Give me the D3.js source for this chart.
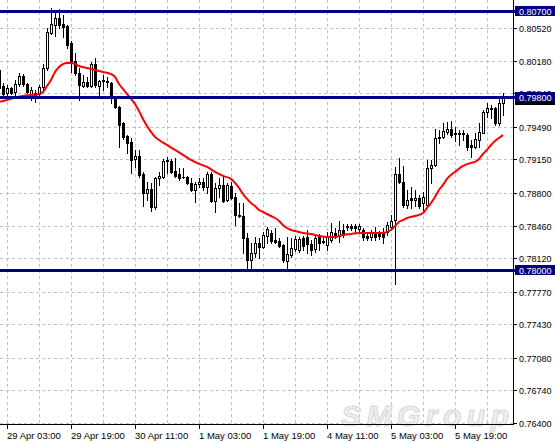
<!DOCTYPE html>
<html><head><meta charset="utf-8">
<script src="https://cdn.jsdelivr.net/npm/d3@7"></script>
<style>body{margin:0;background:#fff}svg{display:block}</style>
</head><body>
<svg id="c" width="555" height="443"></svg>
<script>
// ---- data (H1 candles, 29 Apr 01:00 .. 6 May 07:00) ----
const open = [0.80082,0.79915,0.79842,0.79894,0.79852,0.79936,0.80019,0.79936,0.79821,0.79842,
0.79832,0.79905,0.80103,0.80468,0.80551,0.80624,0.80562,0.80541,0.80364,0.80176,
0.80051,0.79915,0.79957,0.79915,0.80144,0.79915,0.79978,0.79967,0.79946,0.79790,
0.79696,0.79530,0.79394,0.79331,0.79154,0.79186,0.78998,0.78799,0.78841,0.78653,
0.78956,0.78966,0.79133,0.79133,0.79029,0.78998,0.78966,0.78966,0.78904,0.78831,
0.78893,0.78914,0.78862,0.78998,0.78716,0.78852,0.78883,0.78726,0.78872,0.78758,
0.78570,0.78559,0.78330,0.78100,0.78173,0.78278,0.78236,0.78351,0.78382,0.78309,
0.78298,0.78257,0.78090,0.78152,0.78215,0.78204,0.78330,0.78340,0.78267,0.78215,
0.78340,0.78298,0.78257,0.78309,0.78382,0.78351,0.78413,0.78444,0.78455,0.78455,
0.78424,0.78413,0.78351,0.78340,0.78382,0.78371,0.78392,0.78392,0.78444,0.78517,
0.78998,0.78914,0.78674,0.78747,0.78726,0.78747,0.78695,0.78674,0.79060,0.79092,
0.79373,0.79384,0.79436,0.79467,0.79425,0.79425,0.79425,0.79404,0.79300,0.79279,
0.79352,0.79425,0.79644,0.79686,0.79686,0.79530,0.79738];
const high = [0.80113,0.79946,0.79925,0.79905,0.79978,0.80051,0.80040,0.79946,0.79905,0.79873,
0.79925,0.80144,0.80520,0.80729,0.80708,0.80718,0.80656,0.80551,0.80384,0.80259,
0.80103,0.80030,0.80009,0.80165,0.80207,0.79978,0.80030,0.80009,0.79957,0.79800,
0.79706,0.79540,0.79404,0.79373,0.79248,0.79248,0.79019,0.78914,0.78904,0.78966,
0.79019,0.79154,0.79175,0.79154,0.79165,0.79060,0.79060,0.78977,0.78956,0.78914,
0.78956,0.78956,0.79019,0.79019,0.78904,0.78956,0.78977,0.78904,0.78914,0.78799,
0.78695,0.78695,0.78382,0.78278,0.78340,0.78330,0.78392,0.78444,0.78413,0.78434,
0.78330,0.78267,0.78340,0.78330,0.78351,0.78340,0.78351,0.78413,0.78309,0.78361,
0.78371,0.78340,0.78392,0.78486,0.78434,0.78507,0.78476,0.78476,0.78476,0.78476,
0.78476,0.78434,0.78382,0.78413,0.78444,0.78403,0.78434,0.78497,0.78570,0.79071,
0.79165,0.79081,0.78831,0.78862,0.78831,0.78778,0.78810,0.79144,0.79144,0.79467,
0.79457,0.79530,0.79540,0.79550,0.79488,0.79457,0.79457,0.79425,0.79352,0.79425,
0.79530,0.79665,0.79738,0.79717,0.79696,0.79790,0.79842];
const low = [0.79842,0.79800,0.79800,0.79832,0.79821,0.79915,0.79915,0.79842,0.79769,0.79748,
0.79800,0.79873,0.80082,0.80457,0.80436,0.80520,0.80426,0.80311,0.80061,0.80030,
0.79769,0.79905,0.79905,0.79905,0.79905,0.79800,0.79873,0.79905,0.79738,0.79686,
0.79279,0.79363,0.79217,0.79008,0.79071,0.78966,0.78663,0.78726,0.78611,0.78632,
0.78883,0.78956,0.79008,0.79008,0.78966,0.78935,0.78956,0.78893,0.78820,0.78705,
0.78862,0.78831,0.78799,0.78705,0.78601,0.78758,0.78705,0.78716,0.78737,0.78465,
0.78549,0.78173,0.78017,0.78006,0.78131,0.78121,0.78225,0.78278,0.78278,0.78278,
0.78236,0.78079,0.78017,0.78131,0.78194,0.78183,0.78204,0.78173,0.78152,0.78183,
0.78204,0.78278,0.78204,0.78288,0.78330,0.78288,0.78340,0.78413,0.78413,0.78392,
0.78403,0.78309,0.78309,0.78309,0.78309,0.78319,0.78278,0.78361,0.78434,0.77850,
0.78904,0.78653,0.78643,0.78643,0.78663,0.78643,0.78601,0.78653,0.78904,0.79081,
0.79321,0.79373,0.79415,0.79384,0.79342,0.79300,0.79352,0.79248,0.79175,0.79269,
0.79279,0.79425,0.79592,0.79582,0.79509,0.79509,0.79613];
const close = [0.79894,0.79832,0.79894,0.79842,0.79936,0.80019,0.79936,0.79852,0.79873,0.79811,
0.79905,0.80103,0.80478,0.80562,0.80624,0.80551,0.80530,0.80343,0.80165,0.80051,
0.79925,0.79957,0.79915,0.80144,0.79925,0.79967,0.79967,0.79957,0.79800,0.79696,
0.79509,0.79384,0.79321,0.79144,0.79186,0.78987,0.78799,0.78841,0.78653,0.78956,
0.78977,0.79133,0.79144,0.79019,0.78977,0.78956,0.78961,0.78904,0.78831,0.78893,
0.78914,0.78862,0.78998,0.78716,0.78852,0.78883,0.78716,0.78883,0.78747,0.78570,
0.78559,0.78330,0.78100,0.78173,0.78278,0.78236,0.78361,0.78424,0.78298,0.78288,
0.78246,0.78100,0.78163,0.78225,0.78319,0.78319,0.78246,0.78267,0.78204,0.78330,
0.78278,0.78293,0.78340,0.78392,0.78340,0.78413,0.78361,0.78455,0.78434,0.78434,
0.78455,0.78340,0.78330,0.78382,0.78340,0.78351,0.78340,0.78465,0.78507,0.78998,
0.78914,0.78674,0.78726,0.78726,0.78747,0.78663,0.78758,0.79060,0.79092,0.79373,
0.79384,0.79446,0.79467,0.79404,0.79415,0.79415,0.79415,0.79279,0.79279,0.79363,
0.79436,0.79644,0.79686,0.79675,0.79530,0.79738,0.79790];

// moving average (bar index, value)
const maBars = [0,2,4,6,8,10,11,12,13,14,15,16,17,18,19,20,22,24,26,28,29,30,31,32,33,34,35,36,37,38,39,40,42,44,46,48,50,52,54,56,58,59,60,61,62,63,64,65,66,67,68,69,70,71,72,73,74,76,78,80,82,84,86,88,90,92,94,96,97,98,99,100,101,102,104,106,107,108,109,110,111,112,113,114,116,118,119,120,121,122,123,124,125,126];
const maValues = [0.79748,0.79769,0.79795,0.79811,0.79821,0.79832,0.79852,0.79915,0.79978,0.80061,0.80113,0.80144,0.80155,0.80155,0.80144,0.80124,0.80103,0.80082,0.80061,0.80040,0.80009,0.79936,0.79884,0.79832,0.79780,0.79727,0.79654,0.79571,0.79498,0.79436,0.79384,0.79352,0.79300,0.79248,0.79196,0.79144,0.79102,0.79071,0.79019,0.78977,0.78946,0.78904,0.78852,0.78789,0.78737,0.78695,0.78663,0.78621,0.78601,0.78580,0.78559,0.78538,0.78507,0.78465,0.78434,0.78413,0.78403,0.78382,0.78371,0.78351,0.78340,0.78340,0.78361,0.78371,0.78382,0.78382,0.78382,0.78382,0.78392,0.78413,0.78455,0.78497,0.78517,0.78538,0.78559,0.78590,0.78643,0.78695,0.78758,0.78831,0.78883,0.78946,0.78987,0.79019,0.79081,0.79113,0.79123,0.79154,0.79206,0.79248,0.79300,0.79342,0.79373,0.79404];

const levels = [0.80700, 0.79800, 0.78000];
const yTicks = [0.80520,0.80180,0.79840,0.79490,0.79150,0.78800,0.78460,0.78120,0.77770,0.77430,0.77080,0.76740,0.76400];
const xTickBars = [2,18,34,50,66,82,98,114];
const xTickLabels = ["29 Apr 03:00","29 Apr 19:00","30 Apr 11:00","1 May 03:00","1 May 19:00","4 May 11:00","5 May 03:00","5 May 19:00"];
const watermark = "SMGroup";

// ---- layout ----
const W = 555, H = 443;
const axisX = 513, axisY = 424;
const FONT = "'Liberation Sans', Arial, sans-serif";
const NAVY = "#000080";

const x = d3.scaleLinear().domain([0, 128.5]).range([-1, 513]);
const y = d3.scaleLinear().domain([0.764, 0.8052]).range([423, 28]);
const px = v => Math.round(x(v));
const py = v => Math.round(y(v));

const svg = d3.select("#c");
svg.append("rect").attr("width", W).attr("height", H).attr("fill", "#fff");

const plot = svg.append("g");
// grid
const gridBars = d3.range(2, 128, 8).filter(i => x(i) < axisX - 2);
plot.selectAll("line.vg").data(gridBars).join("line")
  .attr("x1", d => px(d) + 0.5).attr("x2", d => px(d) + 0.5)
  .attr("y1", 0).attr("y2", axisY)
  .attr("stroke", "#c0c0c0").attr("stroke-dasharray", "3,3").attr("shape-rendering", "crispEdges");
plot.selectAll("line.hg").data(yTicks).join("line")
  .attr("x1", 0).attr("x2", axisX)
  .attr("y1", d => py(d) + 0.5).attr("y2", d => py(d) + 0.5)
  .attr("stroke", "#c0c0c0").attr("stroke-dasharray", "3,3").attr("shape-rendering", "crispEdges");

// watermark
svg.append("text").text(watermark)
  .attr("x", 341).attr("y", 426)
  .attr("font-family", FONT).attr("font-size", 30).attr("font-style", "italic").attr("font-weight", "bold")
  .attr("textLength", 168).attr("lengthAdjust", "spacing")
  .attr("fill", "#eeeeee").attr("stroke", "#d8d8d8").attr("stroke-width", 1);

// candles
const idx = d3.range(open.length);
const cg = svg.append("g").attr("shape-rendering", "crispEdges");
idx.forEach(i => {
  const cx = px(i);
  const yh = py(high[i]), yl = py(low[i]);
  cg.append("rect").attr("x", cx).attr("y", yh).attr("width", 1).attr("height", Math.max(1, yl - yh + 1)).attr("fill", "#000");
  const yo = py(open[i]), yc = py(close[i]);
  const top = Math.min(yo, yc), bot = Math.max(yo, yc);
  if (bot - top < 1) {
    cg.append("rect").attr("x", cx - 1).attr("y", top).attr("width", 3).attr("height", 1).attr("fill", "#000");
  } else if (close[i] > open[i]) {
    cg.append("rect").attr("x", cx - 0.5).attr("y", top + 0.5).attr("width", 2).attr("height", bot - top)
      .attr("fill", "#fff").attr("stroke", "#000").attr("stroke-width", 1);
  } else {
    cg.append("rect").attr("x", cx - 1).attr("y", top).attr("width", 3).attr("height", bot - top + 1).attr("fill", "#000");
  }
});

// moving average
const maLine = d3.line().x((d, k) => x(maBars[k])).y(d => y(d)).curve(d3.curveMonotoneX);
svg.append("path").attr("d", maLine(maValues)).attr("fill", "none").attr("stroke", "#ff0000").attr("stroke-width", 2);

// horizontal level lines
svg.selectAll("rect.lvl").data(levels).join("rect")
  .attr("x", 0).attr("width", axisX + 2).attr("y", d => py(d) - 1).attr("height", 3)
  .attr("fill", NAVY).attr("shape-rendering", "crispEdges");

// axes
svg.append("rect").attr("x", axisX).attr("y", 0).attr("width", 1).attr("height", axisY + 1).attr("fill", "#000");
svg.append("rect").attr("x", 0).attr("y", axisY).attr("width", axisX + 1).attr("height", 1).attr("fill", "#000");

// right ticks & labels
svg.selectAll("rect.yt").data(yTicks).join("rect")
  .attr("x", axisX + 1).attr("y", d => py(d)).attr("width", 3).attr("height", 1).attr("fill", "#000");
svg.selectAll("text.yl").data(yTicks).join("text")
  .attr("x", axisX + 6).attr("y", d => py(d) + 3.5)
  .attr("font-family", FONT).attr("font-size", 9).attr("fill", "#000")
  .text(d => d.toFixed(5));

// bottom ticks & labels
svg.selectAll("rect.xt").data(xTickBars).join("rect")
  .attr("x", d => px(d)).attr("y", axisY + 1).attr("width", 1).attr("height", 4).attr("fill", "#000");
svg.selectAll("text.xl").data(xTickBars).join("text")
  .attr("x", d => px(d)).attr("y", 439)
  .attr("font-family", FONT).attr("font-size", 9.5).attr("fill", "#000")
  .text((d, k) => xTickLabels[k]);

// current bid label (mostly hidden)
const lastClose = close[close.length - 1];
svg.append("rect").attr("x", axisX + 2).attr("y", py(lastClose) - 4).attr("width", W - axisX - 2).attr("height", 11).attr("fill", "#000");

// level labels
const lg = svg.selectAll("g.lb").data(levels).join("g");
lg.append("rect").attr("x", axisX + 2).attr("y", d => py(d) - 5).attr("width", W - axisX - 2).attr("height", 10).attr("fill", NAVY);
lg.append("text").attr("x", axisX + 6).attr("y", d => py(d) + 3.5)
  .attr("font-family", FONT).attr("font-size", 9).attr("fill", "#fff")
  .text(d => d.toFixed(5));
</script>
</body></html>
